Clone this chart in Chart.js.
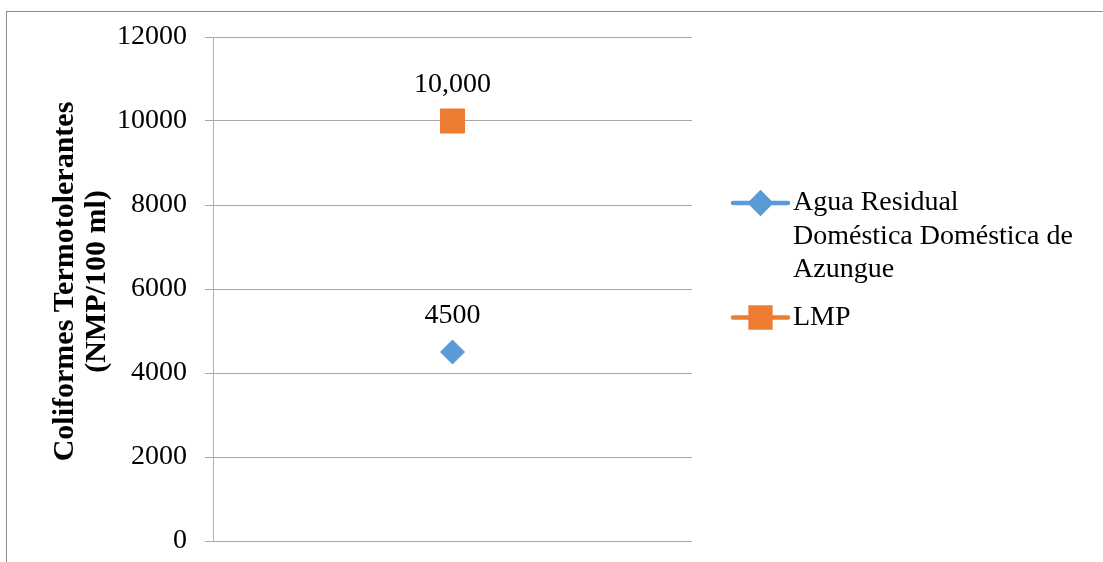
<!DOCTYPE html>
<html>
<head>
<meta charset="utf-8">
<script src="https://cdn.jsdelivr.net/npm/chart.js@4/dist/chart.umd.min.js"></script>
<style>
    html, body { margin: 0; padding: 0; background: #fff; overflow: hidden; }
    #frame { position: absolute; left: 6px; top: 11px; width: 1300px; height: 800px; border: 1px solid #8c8c8c; }
    #wrap { position: absolute; left: 0; top: 0; width: 1103px; height: 562px; }
</style>
</head>
<body>
<div id="frame"></div>
<div id="wrap"><canvas id="chart" width="1103" height="562"></canvas></div>
<script>
// ---- data ----
const categories = [''];
const seriesNames = [['Agua Residual', 'Doméstica Doméstica de', 'Azungue'], ['LMP']];
const aguaResidual = [4500];
const lmp = [10000];
const pointLabels = [['4500'], ['10,000']];
const yTicks = [0, 2000, 4000, 6000, 8000, 10000, 12000];

const BLUE = '#5B9BD5';
const ORANGE = '#ED7D31';
const FONT = '"Liberation Serif", "Times New Roman", serif';

// labels drawn above each point
const valueLabels = {
    id: 'valueLabels',
    afterDatasetsDraw(chart) {
        const ctx = chart.ctx;
        ctx.save();
        ctx.font = '28px ' + FONT;
        ctx.fillStyle = '#000';
        ctx.textAlign = 'center';
        ctx.textBaseline = 'middle';
        chart.data.datasets.forEach((ds, i) => {
            chart.getDatasetMeta(i).data.forEach((pt, j) => {
                ctx.fillText(pointLabels[i][j], pt.x, pt.y - 36);
            });
        });
        ctx.restore();
    }
};

// legend on the right, with wrapped text
const sideLegend = {
    id: 'sideLegend',
    afterDraw(chart) {
        const ctx = chart.ctx;
        const area = chart.chartArea;
        const x0 = area.right + 41;
        let y = area.top + 166;
        const lineH = 33.5;
        ctx.save();
        ctx.font = '28px ' + FONT;
        ctx.textBaseline = 'middle';
        ctx.textAlign = 'left';
        chart.data.datasets.forEach((ds, i) => {
            ctx.strokeStyle = ds.borderColor;
            ctx.lineWidth = 4.5;
            ctx.lineCap = 'round';
            ctx.beginPath();
            ctx.moveTo(x0, y);
            ctx.lineTo(x0 + 55, y);
            ctx.stroke();
            Chart.helpers.drawPoint(ctx, {
                pointStyle: ds.pointStyle,
                radius: ds.pointStyle === 'rectRot' ? 10 : 14,
                rotation: 0,
                borderWidth: 1
            }, x0 + 27.5, y);
            ctx.fillStyle = ds.backgroundColor;
            ctx.fill();
            ctx.fillStyle = '#000';
            ds.label.forEach((t, k) => ctx.fillText(t, x0 + 60, y + k * lineH));
            y += ds.label.length * lineH + 14;
        });
        ctx.restore();
    }
};

new Chart(document.getElementById('chart'), {
    type: 'line',
    data: {
        labels: categories,
        datasets: [
            {
                label: seriesNames[0], data: aguaResidual,
                borderColor: BLUE, backgroundColor: BLUE,
                pointStyle: 'rectRot', pointRadius: 12, pointBorderWidth: 1, showLine: false
            },
            {
                label: seriesNames[1], data: lmp,
                borderColor: ORANGE, backgroundColor: ORANGE,
                pointStyle: 'rect', pointRadius: 17, pointBorderWidth: 1, showLine: false
            }
        ]
    },
    options: {
        responsive: false,
        animation: false,
        layout: { padding: { left: 0, top: 37, right: 411, bottom: 21 } },
        scales: {
            x: { display: false, offset: true },
            y: {
                min: 0, max: 12000,
                afterBuildTicks: s => { s.ticks = yTicks.map(v => ({ value: v })); },
                afterFit: s => { s.width = 213; s.paddingTop = 0; s.paddingBottom = 0; },
                ticks: { color: '#000', font: { family: FONT, size: 28 }, padding: 18, callback: v => String(v) },
                grid: { color: '#a6a6a6', lineWidth: 1, tickLength: 8 },
                border: { color: '#b3b3b3', width: 1 },
                title: {
                    display: true,
                    // leading nbsp nudges the centred title up a little, as in the original
                    text: ['\u00a0\u00a0Coliformes Termotolerantes', '\u00a0\u00a0(NMP/100 ml)'],
                    color: '#000',
                    font: { family: FONT, size: 30, weight: 'bold', lineHeight: 1.07 },
                    padding: { top: 49, bottom: 0 }
                }
            }
        },
        plugins: { legend: { display: false }, tooltip: { enabled: false } }
    },
    plugins: [valueLabels, sideLegend]
});
</script>
</body>
</html>
